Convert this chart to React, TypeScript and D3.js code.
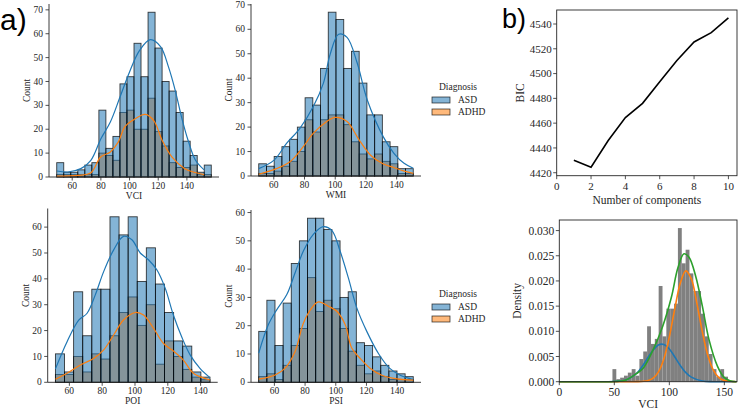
import React from "react";
import * as d3 from "d3";

type Pt = [number, number];

// ---- a) histograms: counts per bin for each index ----
const vciRange: [number, number] = [49.2, 157];
const vciAsd = [6, 2, 2, 3, 5, 6, 28, 12, 17, 39, 42, 56, 42, 69, 54, 40, 36, 27, 15, 9, 2, 5];
const vciAdhd = [1, 1, 1, 1, 1, 1, 10, 9, 7, 27, 28, 20, 20, 33, 19, 13, 6, 4, 4, 5, 1, 1];
const vciAsdKde: Pt[] = [[49.3, 2.5], [57, 2.1], [66, 3.5], [73, 7], [80, 16], [86.6, 23], [93.4, 33.6], [100, 44], [107, 53], [114.5, 57.5], [121.6, 54.6], [127.2, 46], [131.8, 36.4], [136.3, 25], [140.8, 15.4], [146, 7], [152, 3]];
const vciAdhdKde: Pt[] = [[49.3, 0.4], [64, 0.7], [73, 1.8], [79.8, 8.4], [86.6, 10.5], [92.2, 14.7], [96.7, 21], [102.4, 23.8], [111, 26.2], [117, 23.5], [122.7, 15.4], [129.5, 8.4], [138.5, 3.5], [145, 2], [152, 1]];

const wmiRange: [number, number] = [50.2, 150.8];
const wmiAsd = [5, 4, 8, 12, 15, 20, 32, 29, 44, 67, 64, 44, 51, 38, 25, 25, 14, 12, 3, 3];
const wmiAdhd = [1, 1, 2, 4, 6, 10, 23, 18, 23, 25, 25, 21, 14, 9, 7, 9, 6, 5, 1, 1];
const wmiAsdKde: Pt[] = [[50.2, 3], [60.2, 6.5], [68.3, 13.3], [77, 19.5], [85.8, 28.5], [92.3, 38], [96.7, 49.8], [102.2, 58], [107.7, 56.7], [114.2, 46.4], [120.8, 31.2], [131.3, 16], [138.2, 9.3], [144.8, 5.2], [150.8, 3.2]];
const wmiAdhdKde: Pt[] = [[50.2, 0.7], [61.7, 3], [70.5, 5.8], [79.2, 12], [85.8, 17.5], [94.5, 22.3], [100, 24], [107.7, 22.3], [115.3, 15], [123, 8.5], [131, 5], [138, 3.5], [145, 2], [150.8, 1.1]];

const poiRange: [number, number] = [51.5, 145.7];
const poiAsd = [11, 4, 35, 18, 36, 36, 64, 57, 64, 39, 52, 38, 27, 16, 14, 4, 2];
const poiAdhd = [3, 3, 10, 4, 11, 9, 18, 27, 33, 22, 30, 7, 16, 10, 5, 2, 1];
const poiAsdKde: Pt[] = [[51.5, 5.2], [58.6, 15.7], [65.7, 24], [70.8, 26.7], [75.8, 33.8], [80.9, 42.8], [87, 51.2], [93, 56.4], [98.1, 55.1], [103.2, 50], [108.2, 47.4], [113.3, 43.5], [118.4, 36.4], [123.4, 26], [128.5, 17.5], [133.6, 10.6], [139.6, 5.4], [145.7, 1.8]];
const poiAdhdKde: Pt[] = [[51.5, 1.2], [58.6, 3.5], [66.7, 6.7], [75, 9.3], [80.9, 12.5], [87, 18.3], [93, 24.1], [100.2, 27], [105.2, 26], [111.3, 20.9], [117.4, 15], [123.4, 12.1], [129.5, 8.6], [135.6, 3.5], [145.7, 0.9]];

const psiRange: [number, number] = [49.8, 150.5];
const psiAsd = [18, 29, 13, 28, 42, 50, 58, 58, 54, 50, 30, 32, 14, 13, 9, 6, 4, 3, 2];
const psiAdhd = [2, 3, 1, 6, 13, 19, 37, 25, 29, 26, 19, 11, 6, 3, 4, 2, 1, 1, 1];
const psiAsdKde: Pt[] = [[49.8, 10.3], [56.1, 20.4], [61.6, 25.7], [68.1, 31], [73.5, 38.7], [78.9, 46.4], [85.4, 52.3], [91.9, 55], [97.4, 53.7], [102.8, 46.4], [108.2, 36.9], [113.7, 26.3], [120.2, 18], [128, 10], [135, 5], [142, 2.5], [150.5, 1]];
const psiAdhdKde: Pt[] = [[49.8, 1.1], [60.5, 2.6], [67, 5], [73.5, 10.9], [78.9, 20.9], [84.4, 26.3], [88.7, 28.4], [95.2, 26.9], [100.7, 25.1], [106.1, 20.4], [110.4, 12.1], [115.8, 8.5], [122.3, 5], [130, 2.5], [140, 1.2], [150.5, 0.8]];

const groups = ["ASD", "ADHD"];

// ---- b) model selection ----
const bicComponents = [1, 2, 3, 4, 5, 6, 7, 8, 9, 10];
const bicValues = [4430, 4424.5, 4446, 4464.5, 4476, 4493.5, 4510.5, 4525.5, 4533, 4545];

// VCI density histogram and fitted mixture
const gmmRange: [number, number] = [48.3, 153.3];
const gmmDensity = [0.0025, 0.0005, 0.0008, 0.0012, 0.0018, 0.0025, 0.0012, 0.0045, 0.006, 0.011, 0.0075, 0.0085, 0.019, 0.009, 0.0145, 0.0145, 0.0155, 0.0305, 0.0235, 0.0262, 0.0215, 0.018, 0.018, 0.0135, 0.009, 0.0055, 0.0025, 0.001, 0.0025, 0.001];
const gmmComp1: Pt[] = [[0, 0], [40, 0], [50, 0.00003], [60, 0.0003], [70, 0.0016], [75, 0.0029], [80, 0.0046], [85, 0.0062], [90, 0.0073], [95, 0.0074], [100, 0.0065], [105, 0.0049], [110, 0.0032], [115, 0.0018], [120, 0.0009], [130, 0.00013], [140, 0], [161, 0]];
const gmmComp2: Pt[] = [[0, 0], [60, 0], [70, 0.00001], [80, 0.0002], [85, 0.00065], [90, 0.0019], [95, 0.0045], [100, 0.0089], [105, 0.0145], [110, 0.0196], [115, 0.022], [120, 0.0204], [125, 0.0156], [130, 0.0099], [135, 0.0052], [140, 0.0023], [145, 0.0008], [150, 0.00024], [160, 0], [161, 0]];
const gmmTotal: Pt[] = [[0, 0], [40, 0], [50, 0.00004], [60, 0.0003], [70, 0.0016], [76, 0.0026], [85, 0.0062], [94, 0.011], [101.8, 0.0167], [107.8, 0.0226], [113.3, 0.0254], [117.9, 0.0247], [124, 0.0209], [130, 0.015], [136, 0.0084], [143.7, 0.0031], [150, 0.0008], [155, 0.0002], [161, 0]];

const SERIF = "'Liberation Serif', 'Times New Roman', serif";
const SANS = "'Liberation Sans', Arial, sans-serif";
const BLUE = "#1f77b4";
const ORANGE = "#ff7f0e";
const INK = "#262626";
const HIST_ALPHA = 0.55;

interface HistProps {
  left: number;
  top: number;
  width: number;
  height: number;
  label: string;
  range: [number, number];
  asd: number[];
  adhd: number[];
  asdKde: Pt[];
  adhdKde: Pt[];
  xTicks: number[];
  yTicks: number[];
}

function HistPanel(p: HistProps) {
  const [lo, hi] = p.range;
  const pad = (hi - lo) * 0.05;
  const x = d3.scaleLinear().domain([lo - pad, hi + pad]).range([p.left, p.left + p.width]);
  const y = d3
    .scaleLinear()
    .domain([0, (d3.max(p.asd) ?? 1) * 1.05])
    .range([p.top + p.height, p.top]);
  const bw = (hi - lo) / p.asd.length;
  const line = d3
    .line<Pt>()
    .x((d) => x(d[0]))
    .y((d) => y(d[1]))
    .curve(d3.curveCatmullRom.alpha(0.5));
  const bottom = p.top + p.height;

  const bars = (vals: number[], color: string) =>
    vals.map((v, i) => (
      <rect
        key={i}
        x={x(lo + i * bw)}
        y={y(v)}
        width={x(lo + (i + 1) * bw) - x(lo + i * bw)}
        height={bottom - y(v)}
        fill={color}
        fillOpacity={HIST_ALPHA}
        stroke="#000"
        strokeOpacity={0.75}
        strokeWidth={0.9}
      />
    ));

  return (
    <g fontFamily={SERIF} fontSize={9.5} fill={INK}>
      {/* ADHD first so the ASD layer sits on top, as seaborn layers hues */}
      <g>{bars(p.adhd, ORANGE)}</g>
      <g>{bars(p.asd, BLUE)}</g>
      <path d={line(p.asdKde) ?? ""} fill="none" stroke={BLUE} strokeWidth={1.2} />
      <path d={line(p.adhdKde) ?? ""} fill="none" stroke={ORANGE} strokeWidth={1.2} />

      <line x1={p.left} x2={p.left} y1={p.top} y2={bottom} stroke={INK} strokeWidth={0.9} />
      <line x1={p.left} x2={p.left + p.width} y1={bottom} y2={bottom} stroke={INK} strokeWidth={0.9} />

      {p.yTicks.map((t) => (
        <g key={t}>
          <line x1={p.left - 3.5} x2={p.left} y1={y(t)} y2={y(t)} stroke={INK} strokeWidth={0.8} />
          <text x={p.left - 6} y={y(t)} dy="0.33em" textAnchor="end">
            {t}
          </text>
        </g>
      ))}
      {p.xTicks.map((t) => (
        <g key={t}>
          <line x1={x(t)} x2={x(t)} y1={bottom} y2={bottom + 3.5} stroke={INK} strokeWidth={0.8} />
          <text x={x(t)} y={bottom + 12} textAnchor="middle">
            {t}
          </text>
        </g>
      ))}
      <text x={p.left + p.width / 2} y={bottom + 22} textAnchor="middle">
        {p.label}
      </text>
      <text
        transform={`translate(${p.left - 19},${p.top + p.height / 2}) rotate(-90)`}
        textAnchor="middle"
      >
        Count
      </text>
    </g>
  );
}

function Legend({ left, top }: { left: number; top: number }) {
  const colors = [BLUE, ORANGE];
  return (
    <g fontFamily={SERIF} fontSize={9.5} fill={INK}>
      <text x={left + 26} y={top} textAnchor="middle">
        Diagnosis
      </text>
      {groups.map((g, i) => (
        <g key={g}>
          <rect
            x={left}
            y={top + 7 + i * 12}
            width={18}
            height={6}
            fill={colors[i]}
            fillOpacity={HIST_ALPHA}
            stroke="#000"
            strokeOpacity={0.75}
            strokeWidth={0.8}
          />
          <text x={left + 26} y={top + 10 + i * 12} dy="0.33em">
            {g}
          </text>
        </g>
      ))}
    </g>
  );
}

function BicPanel() {
  const left = 556.7;
  const right = 737;
  const top = 10;
  const bottom = 175.7;
  const x = d3.scaleLinear().domain([0, 10.5]).range([left, right]);
  const y = d3.scaleLinear().domain([4417.6, 4551.3]).range([bottom, top]);
  const line = d3
    .line<number>()
    .x((_, i) => x(bicComponents[i]))
    .y((d) => y(d));
  return (
    <g fontFamily={SERIF} fontSize={11} fill={INK}>
      <path d={line(bicValues) ?? ""} fill="none" stroke="#000" strokeWidth={1.6} />
      <rect x={left} y={top} width={right - left} height={bottom - top} fill="none" stroke={INK} strokeWidth={0.9} />
      {d3.range(4420, 4541, 20).map((t) => (
        <g key={t}>
          <line x1={left - 3.5} x2={left} y1={y(t)} y2={y(t)} stroke={INK} strokeWidth={0.8} />
          <text x={left - 5} y={y(t)} dy="0.35em" textAnchor="end">
            {t}
          </text>
        </g>
      ))}
      {d3.range(0, 11, 2).map((t) => (
        <g key={t}>
          <line x1={x(t)} x2={x(t)} y1={bottom} y2={bottom + 3.5} stroke={INK} strokeWidth={0.8} />
          <text x={x(t)} y={bottom + 14} textAnchor="middle">
            {t}
          </text>
        </g>
      ))}
      <text x={(left + right) / 2} y={bottom + 28} fontSize={11.5} textAnchor="middle">
        Number of components
      </text>
      <text transform={`translate(${left - 33},${(top + bottom) / 2}) rotate(-90)`} fontSize={11.5} textAnchor="middle">
        BIC
      </text>
    </g>
  );
}

function GmmPanel() {
  const left = 559.3;
  const right = 737;
  const top = 220;
  const bottom = 381.7;
  const x = d3.scaleLinear().domain([0, 161.5]).range([left, right]);
  const y = d3.scaleLinear().domain([0, 0.0321]).range([bottom, top]);
  const [lo, hi] = gmmRange;
  const bw = (hi - lo) / gmmDensity.length;
  const line = d3
    .line<Pt>()
    .x((d) => x(d[0]))
    .y((d) => y(d[1]))
    .curve(d3.curveCatmullRom.alpha(0.5));
  const curves: [Pt[], string][] = [
    [gmmComp1, BLUE],
    [gmmComp2, ORANGE],
    [gmmTotal, "#2ca02c"],
  ];
  return (
    <g fontFamily={SERIF} fontSize={11.5} fill={INK}>
      {gmmDensity.map((v, i) => (
        <rect
          key={i}
          x={x(lo + i * bw)}
          y={y(v)}
          width={x(lo + (i + 1) * bw) - x(lo + i * bw)}
          height={bottom - y(v)}
          fill="#808080"
        />
      ))}
      {curves.map(([pts, c]) => (
        <path key={c} d={line(pts) ?? ""} fill="none" stroke={c} strokeWidth={1.6} />
      ))}
      <rect x={left} y={top} width={right - left} height={bottom - top} fill="none" stroke={INK} strokeWidth={0.9} />
      {d3.range(0, 0.0301, 0.005).map((t) => (
        <g key={t}>
          <line x1={left - 3.5} x2={left} y1={y(t)} y2={y(t)} stroke={INK} strokeWidth={0.8} />
          <text x={left - 5} y={y(t)} dy="0.35em" textAnchor="end">
            {t.toFixed(3)}
          </text>
        </g>
      ))}
      {[0, 50, 100, 150].map((t) => (
        <g key={t}>
          <line x1={x(t)} x2={x(t)} y1={bottom} y2={bottom + 3.5} stroke={INK} strokeWidth={0.8} />
          <text x={x(t)} y={bottom + 14} textAnchor="middle">
            {t}
          </text>
        </g>
      ))}
      <text x={(left + right) / 2} y={bottom + 26} textAnchor="middle">
        VCI
      </text>
      <text transform={`translate(${left - 38},${(top + bottom) / 2}) rotate(-90)`} textAnchor="middle">
        Density
      </text>
    </g>
  );
}

export default function App() {
  const ticks = [60, 80, 100, 120, 140];
  return (
    <svg
      width={738}
      height={409}
      style={{ position: "absolute", left: 0, top: 0, background: "#fff" }}
    >
      <rect width={738} height={409} fill="#fff" />
      <text x={0} y={30} fontFamily={SANS} fontSize={30} fill="#000">
        a)
      </text>
      <text x={502} y={28} fontFamily={SANS} fontSize={27} fill="#000">
        b)
      </text>

      <HistPanel left={49} top={4} width={170} height={173} label="VCI" range={vciRange}
        asd={vciAsd} adhd={vciAdhd} asdKde={vciAsdKde} adhdKde={vciAdhdKde}
        xTicks={ticks} yTicks={d3.range(0, 71, 10)} />
      <HistPanel left={251} top={4} width={170} height={172} label="WMI" range={wmiRange}
        asd={wmiAsd} adhd={wmiAdhd} asdKde={wmiAsdKde} adhdKde={wmiAdhdKde}
        xTicks={ticks} yTicks={d3.range(0, 71, 10)} />
      <HistPanel left={47.7} top={208.5} width={170} height={173.8} label="POI" range={poiRange}
        asd={poiAsd} adhd={poiAdhd} asdKde={poiAsdKde} adhdKde={poiAdhdKde}
        xTicks={ticks} yTicks={d3.range(0, 61, 10)} />
      <HistPanel left={251} top={210} width={170} height={172.3} label="PSI" range={psiRange}
        asd={psiAsd} adhd={psiAdhd} asdKde={psiAsdKde} adhdKde={psiAdhdKde}
        xTicks={ticks} yTicks={d3.range(0, 61, 10)} />

      <Legend left={432} top={90} />
      <Legend left={432} top={297} />

      <BicPanel />
      <GmmPanel />
    </svg>
  );
}
